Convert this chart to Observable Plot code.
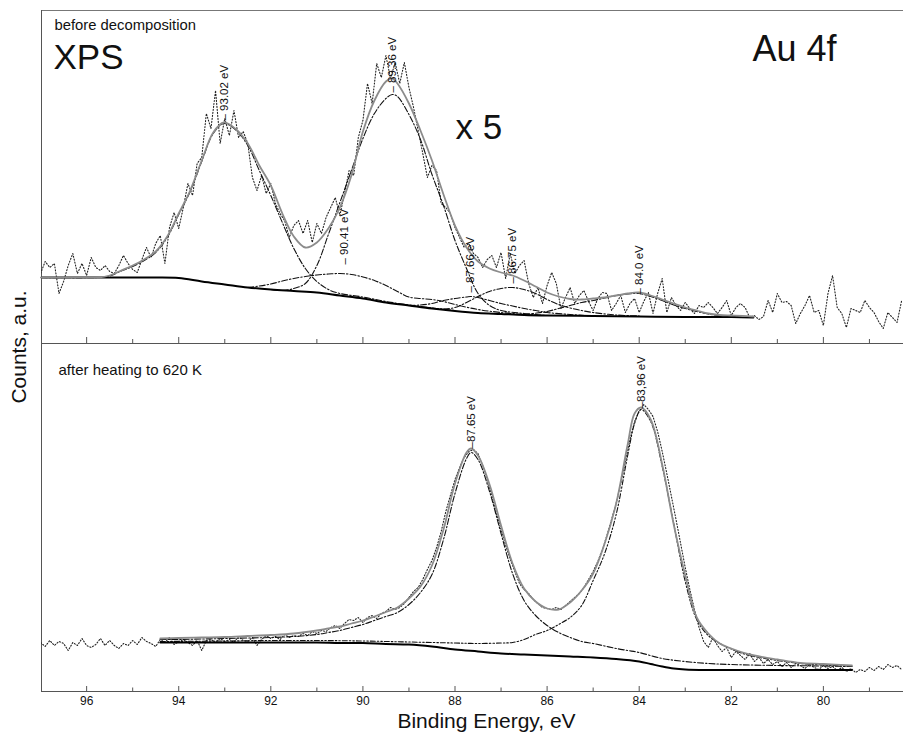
<!DOCTYPE html>
<html><head><meta charset="utf-8">
<script src="https://cdn.jsdelivr.net/npm/d3@7"></script>
<script src="https://cdn.jsdelivr.net/npm/@observablehq/plot@0.6"></script>
<style>
body{margin:0;background:#fff;}
#chart{position:relative;width:903px;height:732px;font-family:"Liberation Sans",Arial,sans-serif;}
#chart svg{display:block;}
#ylab{position:absolute;left:19px;top:347px;transform:translate(-50%,-50%) rotate(-90deg);font-size:21px;white-space:nowrap;color:#111;}
</style></head><body>
<div id="chart"><div id="ylab">Counts, a.u.</div></div>
<script>
// ---------- data ----------
const xDomain = [96.98, 78.26];
const majorTicks = [96, 94, 92, 90, 88, 86, 84, 82, 80];
const minorTicks = [95, 93, 91, 89, 87, 85, 83, 81, 79];
// measurement grid, 97.0 -> 78.3 eV in 0.1 eV steps
const rawEnergy = d3.range(188).map(i => +(97 - i * 0.1).toFixed(1));

// before decomposition (x5), raw counts
const topRaw = [
  70,82,76,80,50,62,78,90,70,80,
  68,86,76,73,78,72,70,78,88,80,
  74,71,84,96,86,100,108,80,116,131,
  115,136,160,148,180,186,230,215,253,200,
  225,208,233,206,212,200,166,153,168,150,
  160,140,130,123,106,118,123,110,123,101,
  120,110,126,136,146,128,150,173,168,206,
  223,260,240,280,266,288,265,281,260,281,
  256,236,213,190,166,178,173,140,136,130,
  116,106,96,100,90,86,76,84,88,76,
  91,65,90,70,78,83,60,46,56,40,
  58,71,60,35,46,56,40,48,53,42,
  33,45,51,50,33,40,48,31,40,45,
  31,42,51,30,50,65,31,46,38,33,
  41,35,30,38,36,41,36,30,36,43,
  28,36,40,36,26,28,24,27,43,31,
  50,41,42,38,20,30,38,48,31,33,
  18,50,68,36,30,16,35,33,31,43,
  36,31,22,15,31,26,21,43
];
// after heating to 620 K, raw counts
const botRaw = [
  49,45,51,46,50,48,41,49,46,53,
  46,44,47,53,46,51,46,43,48,46,
  51,47,54,50,48,45,52,49,54,47,
  50,52,49,46,51,41,51,52,49,53,
  50,52,49,55,51,50,54,46,52,56,
  53,55,52,57,54,56,55,58,56,60,
  58,61,60,64,66,63,68,72,71,74,
  69,74,76,73,78,80,84,82,84,88,
  94,100,104,112,122,131,144,160,180,196,
  212,224,234,240,242,238,226,212,196,178,
  162,146,132,120,108,102,98,92,88,84,
  83,82,84,82,86,90,94,98,104,112,
  120,130,142,156,172,188,208,230,252,270,
  280,287,282,275,260,240,218,195,172,148,
  124,102,82,64,50,44,54,46,40,44,
  34,40,36,32,38,30,34,28,32,27,
  30,25,29,24,28,26,23,27,24,22,
  26,23,25,21,24,20,23,19,22,20,
  24,21,25,22,27,24,26,22
];

// fitted curves, [energy, counts]
const topEnvelope = [[96.98,66],[96.5,66],[96,66],[95.75,66],[95.5,68],[95.25,73],[95,78],[94.75,84],[94.5,92],[94.25,107],[94,130],[93.75,153],[93.5,183],[93.25,211],[93.02,221],[92.75,214],[92.5,200],[92.25,178],[92,158],[91.75,130],[91.5,107],[91.25,96],[91,101],[90.75,115],[90.5,136],[90.25,168],[90,212],[89.75,243],[89.5,262],[89.36,265],[89.25,260],[89,240],[88.75,213],[88.5,183],[88.25,149],[88,118],[87.75,96],[87.5,82],[87.25,75],[87,71],[86.75,68],[86.5,63],[86.25,57],[86,51],[85.75,47],[85.5,44.5],[85.25,44],[85,45],[84.75,46],[84.5,48],[84.25,50],[84,51],[83.75,48],[83.5,44],[83.25,40],[83,36],[82.75,33],[82.5,30],[82.25,28.5],[82,28],[81.75,27.5],[81.52,27]];
const topBackground = [[96.98,66],[95,66],[94.5,66],[94,65.5],[93.5,62],[93,59],[92.5,56],[92,54],[91.5,52.5],[91,51],[90.5,48],[90,45],[89.5,41],[89,38],[88.5,35],[88,32.5],[87.5,30.5],[87,29.5],[86.5,28.5],[86,28],[85,27.5],[84,27],[83,26.5],[82,26.5],[81.52,26]];
const topPeak9302 = [[96.98,66],[95.75,66],[95.5,67.5],[95.25,72.5],[95,77],[94.75,83],[94.5,91],[94.25,106],[94,129],[93.75,152],[93.5,182],[93.25,210],[93.02,220],[92.75,213],[92.5,198],[92.25,173],[92,148],[91.75,121],[91.5,95],[91.25,75],[91,62],[90.75,54],[90.5,50],[90,46.5],[89.5,42],[89,38.5],[88.5,35.5],[88,33]];
const topPeak9041 = [[92.5,56],[92.25,57.5],[92,59.5],[91.75,62.5],[91.5,65],[91.25,67],[91,68.5],[90.75,69.5],[90.5,70],[90.25,69],[90,66.5],[89.75,63],[89.5,58],[89.25,52],[89,46.5],[88.75,45],[88.5,44],[88.25,42],[88,39],[87.5,34],[87,31],[86.5,29],[86,28]];
const topPeak8936 = [[92,54],[91.75,53],[91.5,55],[91.25,60],[91,78],[90.75,109],[90.5,141],[90.25,173],[90,205],[89.75,230],[89.5,245],[89.36,249],[89.25,247],[89,229],[88.75,204],[88.5,169],[88.25,138],[88,103],[87.75,75],[87.5,50],[87.25,38],[87,33],[86.5,30],[86,28]];
const topPeak8766 = [[89,38],[88.75,38.5],[88.5,40],[88.25,43],[88,45],[87.75,46.5],[87.66,47],[87.5,46],[87.25,43],[87,40],[86.75,37.5],[86.5,35],[86.25,33],[86,31],[85.5,29],[85,27.5]];
const topPeak8675 = [[88.5,35.2],[88.25,34.5],[88,36],[87.75,41],[87.5,47],[87.25,52],[87,55],[86.75,56],[86.5,54],[86.25,50],[86,44],[85.75,39],[85.5,35.5],[85.25,33],[85,31],[84.5,28.5],[84,27.5]];
const topPeak8400 = [[86.5,29],[86,32],[85.75,35],[85.5,38],[85.25,41],[85,43],[84.75,45.5],[84.5,48],[84.25,49.5],[84,50],[83.75,47],[83.5,43],[83.25,38.5],[83,35],[82.75,32],[82.5,29.5],[82.25,28],[82,27],[81.52,26.5]];

const botEnvelope = [[94.4,53],[94,53.5],[93.5,54],[93,54.5],[92.5,55.5],[92,56.5],[91.5,58],[91,61],[90.75,63],[90.5,65],[90.25,68],[90,71],[89.75,75],[89.5,79.5],[89.25,84],[89,93],[88.75,105],[88.5,126],[88.25,162],[88,208],[87.75,239],[87.65,243],[87.5,236],[87.25,207],[87,166],[86.75,128],[86.5,103],[86.25,90],[86,83],[85.75,82],[85.5,89],[85.25,101],[85,118],[84.75,148],[84.5,188],[84.25,247],[84.1,278],[83.96,284],[83.75,272],[83.5,227],[83.25,167],[83,116],[82.75,74],[82.5,58],[82.25,48],[82,43],[81.75,39],[81.5,36],[81,32],[80.5,28.5],[80,27.5],[79.38,26]];
const botPeak8765 = [[94.4,52],[94,52],[93.5,52.5],[93,53],[92.5,53.5],[92,54],[91.5,55],[91,57],[90.75,59],[90.5,61],[90.25,64],[90,67],[89.75,71],[89.5,75],[89.25,79],[89,87],[88.75,99],[88.5,117],[88.25,152],[88,198],[87.75,233],[87.65,239],[87.5,232],[87.25,200],[87,158],[86.75,118],[86.5,91],[86.25,76],[86,66],[85.75,59],[85.5,54],[85.25,50],[85,48],[84.75,45.5],[84.5,43],[84.25,41],[84,39],[83.5,33],[83,30],[82.5,28],[82,27],[81,26],[80,25.5],[79.38,25]];
const botPeak8396 = [[94.4,50],[93,50.5],[92,51],[91,51],[90,50.5],[89,49.5],[88,48.5],[87.5,48],[87,48.5],[86.75,49],[86.5,52],[86.25,57],[86,61],[85.75,67],[85.5,74],[85.25,86],[85,111],[84.75,138],[84.5,177],[84.25,236],[84.1,268],[83.96,282],[83.75,270],[83.5,225],[83.25,168],[83,110],[82.75,72],[82.5,56],[82.25,48],[82,42.5],[81.75,38],[81.5,35],[81,31],[80.5,28],[80,26.5],[79.38,25]];
const botBackground = [[94.4,49],[93,49],[92,49],[91,49],[90.5,48.5],[90,48.5],[89.5,47.5],[89,47],[88.5,45],[88,42],[87.5,40],[87,38],[86.5,37],[86,36],[85.5,35],[85,34],[84.5,32.5],[84,30],[83.75,27.5],[83.5,25],[83.25,23],[83,22],[82.5,21.5],[82,21.5],[81,21.5],[80,21.5],[79.38,21.5]];

// peak labels
const topPeakE = [93.02, 90.41, 89.36, 87.66, 86.75, 84.0];
const topPeakText = ["93.02 eV", "90.41 eV", "89.36 eV", "87.66 eV", "86.75 eV", "84.0 eV"];
const topPeakLabelV = [223, 79, 251, 51, 60, 49];
const botPeakE = [87.65, 83.96];
const botPeakText = ["87.65 eV", "83,96 eV"];
const botPeakLabelV = [243, 283];

// ---------- build ----------
const pts = arr => arr.map(([e, v]) => ({e, v}));
const rawTop = rawEnergy.map((e, i) => ({e, v: topRaw[i]}));
const rawBot = rawEnergy.map((e, i) => ({e, v: botRaw[i]}));
const topLabels = topPeakE.map((e, i) => ({e, v: topPeakLabelV[i], t: topPeakText[i]}));
const botLabels = botPeakE.map((e, i) => ({e, v: botPeakLabelV[i], t: botPeakText[i]}));

const FONT = '"Liberation Sans", Arial, sans-serif';
const AX = "#555";
const dashDot = "6,2,1.5,2";
const dashDotDot = "5,2,1.5,2,1.5,2";
const dotted = "1.1,1.9";

const topH = 333, botH = 348;

const topPanel = Plot.plot({
  width: 903, height: 343,
  marginLeft: 41, marginRight: 0, marginTop: 10, marginBottom: 0,
  x: {domain: xDomain, axis: null},
  y: {domain: [0, topH], axis: null},
  style: {fontFamily: FONT, background: "white", overflow: "visible"},
  marks: [
    Plot.ruleY([topH], {stroke: "#777", strokeWidth: 1}),
    Plot.ruleY([0], {stroke: AX, strokeWidth: 1}),
    Plot.ruleX([xDomain[0]], {stroke: AX, strokeWidth: 1}),
    Plot.ruleX(majorTicks, {x: d => d, insetTop: topH - 6, stroke: AX}),
    Plot.ruleX(minorTicks, {x: d => d, insetTop: topH - 4, stroke: AX}),
    Plot.line(rawTop, {x: "e", y: "v", stroke: "#222", strokeWidth: 1.1, strokeDasharray: dotted, clip: true}),
    ...[topPeak9302, topPeak9041, topPeak8936, topPeak8766, topPeak8675, topPeak8400].map(c =>
      Plot.line(pts(c), {x: "e", y: "v", stroke: "#111", strokeWidth: 1.1, strokeDasharray: dashDot, curve: "catmull-rom"})),
    Plot.line(pts(topBackground), {x: "e", y: "v", stroke: "#000", strokeWidth: 2, curve: "catmull-rom"}),
    Plot.line(pts(topEnvelope), {x: "e", y: "v", stroke: "#8c8c8c", strokeWidth: 1.8, curve: "catmull-rom"}),
    Plot.text(topLabels, {x: "e", y: "v", text: d => "– " + d.t, rotate: -90, textAnchor: "start", lineAnchor: "middle", fontSize: 11.5, fill: "#111"}),
    Plot.text(["before decomposition"], {frameAnchor: "top-left", dx: 13, dy: 19, lineAnchor: "bottom", textAnchor: "start", fontSize: 14.8, fill: "#111"}),
    Plot.text(["XPS"], {frameAnchor: "top-left", dx: 12, dy: 58, lineAnchor: "bottom", textAnchor: "start", fontSize: 35, fill: "#111"}),
    Plot.text(["Au 4f"], {frameAnchor: "top-left", dx: 711, dy: 50, lineAnchor: "bottom", textAnchor: "start", fontSize: 36, fill: "#111"}),
    Plot.text(["x 5"], {frameAnchor: "top-left", dx: 414, dy: 128, lineAnchor: "bottom", textAnchor: "start", fontSize: 35, fill: "#111"})
  ]
});

const botPanel = Plot.plot({
  width: 903, height: 389,
  marginLeft: 41, marginRight: 0, marginTop: 0, marginBottom: 41,
  x: {domain: xDomain},
  y: {domain: [0, botH], axis: null},
  style: {fontFamily: FONT, background: "white", overflow: "visible"},
  marks: [
    Plot.axisX({ticks: majorTicks, tickSize: 0, tickPadding: 5, tickFormat: d => String(d), label: null, fontSize: 12, fill: "#111"}),
    Plot.ruleY([0], {stroke: AX, strokeWidth: 1}),
    Plot.ruleX([xDomain[0]], {stroke: AX, strokeWidth: 1}),
    Plot.ruleX(majorTicks, {x: d => d, insetTop: botH - 5, stroke: AX}),
    Plot.ruleX(minorTicks, {x: d => d, insetTop: botH - 3.5, stroke: AX}),
    Plot.line(rawBot, {x: "e", y: "v", stroke: "#222", strokeWidth: 1.1, strokeDasharray: dotted, clip: true}),
    Plot.line(pts(botPeak8765), {x: "e", y: "v", stroke: "#111", strokeWidth: 1.1, strokeDasharray: dashDot, curve: "catmull-rom"}),
    Plot.line(pts(botPeak8396), {x: "e", y: "v", stroke: "#111", strokeWidth: 1.1, strokeDasharray: dashDotDot, curve: "catmull-rom"}),
    Plot.line(pts(botBackground), {x: "e", y: "v", stroke: "#000", strokeWidth: 2, curve: "catmull-rom"}),
    Plot.line(pts(botEnvelope), {x: "e", y: "v", stroke: "#8c8c8c", strokeWidth: 1.8, curve: "catmull-rom"}),
    Plot.text(botLabels, {x: "e", y: "v", text: d => "–" + d.t, rotate: -90, textAnchor: "start", lineAnchor: "middle", fontSize: 11.5, fill: "#111"}),
    Plot.text(["after heating to 620 K"], {frameAnchor: "top-left", dx: 17, dy: 31, lineAnchor: "bottom", textAnchor: "start", fontSize: 15, fill: "#111"}),
    Plot.text(["Binding Energy, eV"], {frameAnchor: "bottom", dx: 14, dy: 36, lineAnchor: "bottom", fontSize: 21, fill: "#111"})
  ]
});

const chart = document.getElementById("chart");
chart.appendChild(topPanel);
chart.appendChild(botPanel);
</script>
</body></html>
